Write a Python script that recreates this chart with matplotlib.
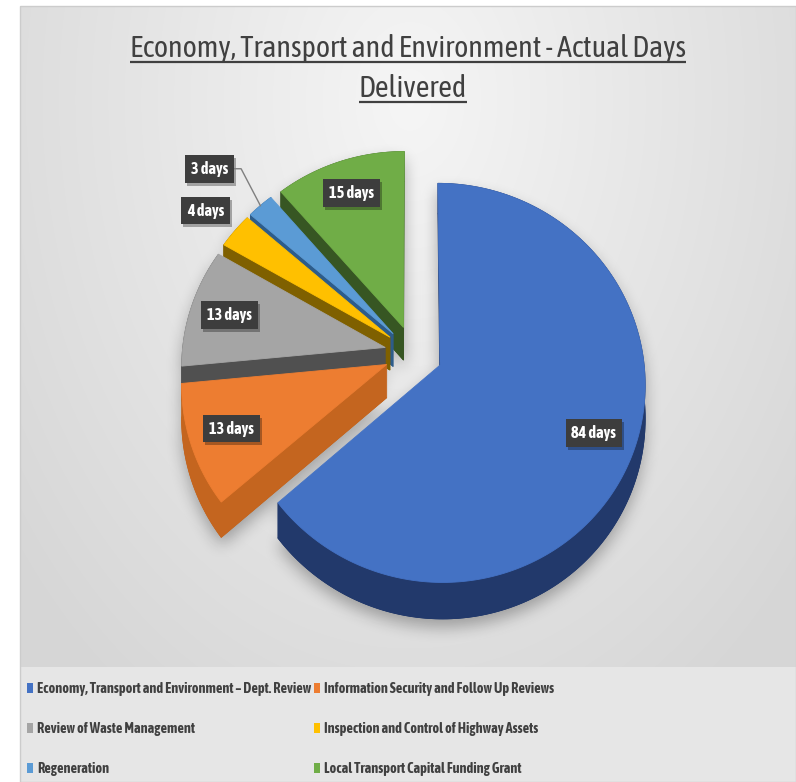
import numpy as np
import matplotlib
matplotlib.use('Agg')
import matplotlib.pyplot as plt
from matplotlib import font_manager
from matplotlib.patches import Polygon, Patch, Rectangle
from matplotlib.path import Path

# ---- data ----
categories = ['Economy, Transport and Environment \u2013 Dept. Review',
              'Information Security and Follow Up Reviews',
              'Review of Waste Management',
              'Inspection and Control of Highway Assets',
              'Regeneration',
              'Local Transport Capital Funding Grant']
days = [84, 13, 13, 4, 3, 15]
title_lines = ['Economy, Transport and Environment - Actual Days', 'Delivered']

# ---- style ----
top_colors = ['#4472C4', '#ED7D31', '#A5A5A5', '#FFC000', '#5B9BD5', '#70AD47']
side_colors = ['#22396b', '#c4651f', '#505050', '#7f6000', '#2d5c8a', '#375623']
label_radius = [0.8, 0.8, 0.8, 1.2, 1.36, 0.8]
label_turn = [0, 0, 0, 0, -2, 0]      # degrees, nudges a label round the pie
leader = [False, False, False, False, True, False]
text_grey = '#404040'

W, H = 796, 782


def weight_num(w):
    if isinstance(w, (int, float)):
        return w
    return 700 if 'bold' in str(w).lower() or 'black' in str(w).lower() else 400


# narrow sans: prefer one that also ships a bold face
found = {}
for f in font_manager.fontManager.ttflist:
    if 'Narrow' in f.name or 'Condensed' in f.name:
        found.setdefault(f.name, set()).add(weight_num(f.weight))
with_bold = sorted(n for n, ws in found.items() if max(ws) >= 600)
if 'Liberation Sans Narrow' in found:
    font, stretch = 'Liberation Sans Narrow', 'normal'
elif with_bold:
    font, stretch = with_bold[0], 'normal'
elif found:
    font, stretch = sorted(found)[0], 'normal'
else:
    font, stretch = 'DejaVu Sans', 'condensed'
bold_font = font if (font in with_bold or font == 'DejaVu Sans') else 'DejaVu Sans'
bold_stretch = stretch if bold_font == font else 'condensed'
plt.rcParams['font.family'] = [font, 'DejaVu Sans']
plt.rcParams['font.stretch'] = stretch

# pie geometry (pixels), tilted disc seen with a little perspective
cx, cy = 413.5, 353.4
radius = 203.0
persp = 0.0887
tilt = 0.965
depth = 33.0
explode = 0.143


def project(x, z, drop=0.0):
    w = 1.0 + persp * np.asarray(z)
    return cx + radius * np.asarray(x) / w, cy - (radius * tilt * np.asarray(z) - drop) / w


def smooth(a, r, passes=3):
    for _ in range(passes):
        for k in (0, 1):
            pad = [(r, r) if i == k else (0, 0) for i in range(2)]
            c = np.cumsum(np.pad(a, pad, mode='edge'), axis=k)
            c = np.insert(c, 0, 0, axis=k)
            n = a.shape[k]
            a = (np.take(c, np.arange(2 * r + 1, 2 * r + 1 + n), axis=k)
                 - np.take(c, np.arange(0, n), axis=k)) / (2 * r + 1)
    return a


fig = plt.figure(figsize=(W / 100, H / 100), dpi=100)
fig.patch.set_facecolor('white')
ax = fig.add_axes([0, 0, 1, 1])
ax.set_xlim(0, W)
ax.set_ylim(H, 0)
ax.axis('off')
renderer = fig.canvas.get_renderer()


def size_for(text, width_px, **kw):
    # font size that makes `text` come out width_px wide
    t = ax.text(0, 0, text, fontsize=10, **kw)
    w = t.get_window_extent(renderer=renderer).width
    t.remove()
    return 10.0 * width_px / w


# background: soft radial grey in the plot area, flat band under it for the legend
yy, xx = np.mgrid[0:H, 0:W] + 0.5
r = np.sqrt(((xx - 410) / 420) ** 2 + ((yy - 100) / 600) ** 2)
g = 0.962 - 0.10 * np.clip(r, 0, 1.2)
g[yy > 667] = 0.905
g[(xx < 20) | (yy < 6)] = 1.0
ax.imshow(np.dstack([g, g, g]), extent=(0, W, H, 0), aspect='auto',
          interpolation='bilinear', zorder=0)
ax.add_patch(Rectangle((20, 6), W - 20, H - 6, fill=False, ec='#cccccc', lw=1, zorder=1))

# slices
total = float(sum(days))
edges = np.concatenate([[0], np.cumsum(days)]) / total * 2 * np.pi
slices = []
for i in range(len(days)):
    t0, t1 = edges[i], edges[i + 1]
    mid = (t0 + t1) / 2
    ox, oz = explode * np.sin(mid), explode * np.cos(mid)
    t = np.linspace(t0, t1, max(int(np.degrees(t1 - t0)), 4))
    px = np.r_[ox, ox + np.sin(t)]
    pz = np.r_[oz, oz + np.cos(t)]
    top = np.column_stack(project(px, pz))
    bot = np.column_stack(project(px, pz, depth))
    slices.append(dict(top=top, bot=bot, ox=ox, oz=oz, mid=mid, t0=t0, t1=t1))

# drop shadow under the whole pie
pts = np.column_stack([xx.ravel(), yy.ravel()])
mask = np.zeros(H * W, bool)
for s in slices:
    mask |= Path(s['top']).contains_points(pts)
    mask |= Path(s['bot']).contains_points(pts)
mask = mask.reshape(H, W).astype(float)
mask = np.roll(mask, 8, axis=0)
shade = smooth(mask, 7)
shadow = np.zeros((H, W, 4))
shadow[..., 3] = 0.30 * shade
ax.imshow(shadow, extent=(0, W, H, 0), aspect='auto', interpolation='bilinear', zorder=2)

# side walls, far slices first; radial cut faces only where they face the viewer
for i in sorted(range(len(days)), key=lambda j: -slices[j]['oz']):
    s = slices[i]
    top, bot = s['top'], s['bot']
    c = side_colors[i]
    pieces = [bot, np.vstack([top[1:], bot[1:][::-1]])]
    if np.sin(s['t0']) < -1e-6:
        pieces.append(np.array([top[0], top[1], bot[1], bot[0]]))
    if -np.sin(s['t1']) < -1e-6:
        pieces.append(np.array([top[0], top[-1], bot[-1], bot[0]]))
    for p in pieces:
        ax.add_patch(Polygon(p, closed=True, fc=c, ec=c, lw=0.6, zorder=3))

# top faces
for i, s in enumerate(slices):
    ax.add_patch(Polygon(s['top'], closed=True, fc=top_colors[i], ec=top_colors[i],
                         lw=0.6, zorder=4))

# data labels
lab_kw = dict(family=[bold_font], fontstretch=bold_stretch, weight='bold')
lab_size = size_for('84 days', 45, **lab_kw)
label_texts = []
for i, v in enumerate(days):
    s = slices[i]
    lr = label_radius[i]
    a = s['mid'] + np.radians(label_turn[i])
    lx, ly = project(s['ox'] + lr * np.sin(a), s['oz'] + lr * np.cos(a))
    t = ax.text(lx, ly, f'{v} days', ha='center', va='center', fontsize=lab_size,
                color='white', zorder=6, **lab_kw,
                bbox=dict(boxstyle='square,pad=0.36', fc='#3d3d3d', ec='none'))
    label_texts.append((t, float(lx), float(ly)))

# title
title_size = size_for(title_lines[0], 555)
titles = []
for line, base, xc in zip(title_lines, [57, 97], [408, 413]):
    titles.append(ax.text(xc, base, line, ha='center', va='baseline', fontsize=title_size,
                          color=text_grey, zorder=6))

# legend, filled row by row like the source layout
leg_kw = dict(family=[bold_font], stretch=bold_stretch, weight='bold')
leg_size = 1.15 * size_for(categories[0], 235, family=[bold_font],
                           fontstretch=bold_stretch, weight='bold')
leg_px = leg_size * 100 / 72
order = [0, 2, 4, 1, 3, 5]
handles = [Patch(fc=top_colors[i], ec='none') for i in order]
ax.legend(handles, [categories[i] for i in order], ncol=2, loc='upper left',
          bbox_to_anchor=(27, 682), bbox_transform=ax.transData, frameon=False,
          prop=dict(size=leg_size, **leg_kw),
          labelcolor=text_grey, handlelength=6 / leg_px, handleheight=9 / leg_px,
          handletextpad=4 / leg_px, columnspacing=3 / leg_px,
          labelspacing=40.3 / leg_px - 1.0,
          borderpad=0, borderaxespad=0)

fig.canvas.draw()
inv = ax.transData.inverted()


def to_data(bb):
    (x0, y0), (x1, y1) = inv.transform([[bb.x0, bb.y0], [bb.x1, bb.y1]])
    return min(x0, x1), min(y0, y1), max(x0, x1), max(y0, y1)


# underline the title lines
for t, base in zip(titles, [57, 97]):
    x0, _, x1, _ = to_data(t.get_window_extent())
    ax.plot([x0, x1], [base + 5, base + 5], color=text_grey, lw=1.6, zorder=6,
            solid_capstyle='butt')

# soft shadow behind each label box, plus leader lines for labels outside their slice
for i, (t, lx, ly) in enumerate(label_texts):
    x0, y0, x1, y1 = to_data(t.get_bbox_patch().get_window_extent())
    ax.add_patch(Rectangle((x0 + 2, y0 + 3), x1 - x0, y1 - y0, fc=(0, 0, 0, 0.3),
                           ec='none', zorder=5))
    if not leader[i]:
        continue
    s = slices[i]
    ex, ey = project(s['ox'] + np.sin(s['mid']), s['oz'] + np.cos(s['mid']))
    ax.plot([x1, x1 + 7, float(ex)], [ly, ly, float(ey)], color='#7f7f7f',
            lw=1, zorder=5)

fig.savefig('out.png', dpi=100)
